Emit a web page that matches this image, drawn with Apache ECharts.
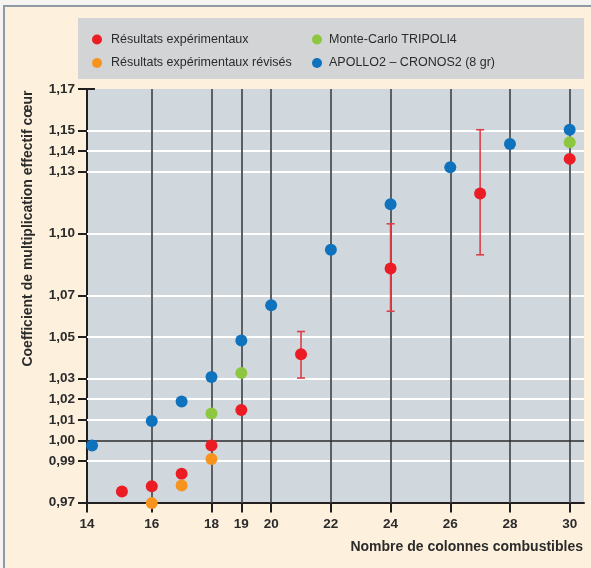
<!DOCTYPE html>
<html>
<head>
<meta charset="utf-8">
<script src="https://cdn.jsdelivr.net/npm/echarts@6/dist/echarts.min.js"></script>
<style>
  html, body { margin: 0; padding: 0; background: #f6f4f0; }
  #frame { position: absolute; left: 3px; top: 5px; width: 588px; height: 563px;
           border-top: 2px solid #8f9aa4; border-left: 2px solid #8f9aa4; background: #fdf0dd; box-sizing: border-box; }
  #chart { position: absolute; left: 0; top: 0; width: 591px; height: 568px; }
</style>
</head>
<body>
<div id="frame"></div>
<div id="chart"></div>
<script>
// ---- data ----
const seriesNames = ['Résultats expérimentaux', 'Résultats expérimentaux révisés', 'Monte-Carlo TRIPOLI4', 'APOLLO2 – CRONOS2 (8 gr)'];

const expX = [15, 16, 17, 18, 19, 21, 24, 27, 30];
const expY = [0.9753, 0.9779, 0.9839, 0.9976, 1.0147, 1.0417, 1.0832, 1.1195, 1.1362];

const errX = [21, 24, 27];
const errLow = [1.0302, 1.0625, 1.0898];
const errHigh = [1.0527, 1.1048, 1.1503];

const revX = [16, 17, 18];
const revY = [0.9697, 0.9782, 0.9910];

const tripoliX = [18, 19, 30];
const tripoliY = [1.0131, 1.0326, 1.1442];

const apolloX = [14, 16, 17, 18, 19, 20, 22, 24, 26, 28, 30];
const apolloY = [0.9976, 1.0094, 1.0188, 1.0307, 1.0483, 1.0654, 1.0922, 1.1142, 1.1321, 1.1434, 1.1503];

const xTickValues = [14, 16, 18, 19, 20, 22, 24, 26, 28, 30];
const xGridValues = [16, 18, 19, 20, 22, 24, 26, 28, 30];
const yTickValues = [0.97, 0.99, 1.00, 1.01, 1.02, 1.03, 1.05, 1.07, 1.10, 1.13, 1.14, 1.15, 1.17];
const yWhiteLines = [0.99, 1.01, 1.02, 1.03, 1.05, 1.07, 1.10, 1.13, 1.14, 1.15];
const yRefLine = 1.00;

const xAxisMin = 13.83, xAxisMax = 30.48;
const yAxisMin = 0.97, yAxisMax = 1.17;

// ---- chart ----
const colors = { exp: '#ec1c24', rev: '#f7941d', tri: '#8dc63f', apo: '#0e72bd' };
const zip = (xs, ys) => xs.map((x, i) => [x, ys[i]]);
const xLabelPos = xTickValues.map(v => (v === xTickValues[0] ? xAxisMin : v));
const fmtY = v => v.toFixed(2).replace('.', ',');
const fmtX = v => (v < xTickValues[0] ? String(xTickValues[0]) : String(Math.round(v)));

const axisDark = '#231f20';
const font = '"Liberation Sans", Arial, Helvetica, sans-serif';

const chart = echarts.init(document.getElementById('chart'), null, { renderer: 'canvas' });

const hiddenLine = { show: false };
chart.setOption({
  animation: false,
  backgroundColor: 'transparent',
  textStyle: { fontFamily: font },
  grid: { left: 87, top: 89, right: 7, bottom: 65.5, show: true, backgroundColor: '#d0d8de', borderWidth: 0 },
  xAxis: [
    {
      type: 'value', min: xAxisMin, max: xAxisMax, position: 'bottom',
      axisLine: { show: true, onZero: false, lineStyle: { color: axisDark, width: 2 } },
      axisTick: { show: true, customValues: xLabelPos, length: 10, lineStyle: { color: axisDark, width: 2 } },
      axisLabel: { show: true, customValues: xLabelPos, formatter: fmtX, margin: 15,
                   color: '#2b2b2b', fontWeight: 'bold', fontSize: 13.5, fontFamily: font },
      splitLine: { show: false }
    },
    {
      type: 'value', min: xAxisMin, max: xAxisMax, position: 'bottom',
      axisLine: hiddenLine,
      axisTick: { show: true, inside: true, customValues: xLabelPos, length: 6, lineStyle: { color: axisDark, width: 2 } },
      axisLabel: { show: false }, splitLine: { show: false }
    }
  ],
  yAxis: [
    {
      type: 'value', min: yAxisMin, max: yAxisMax, position: 'left',
      axisLine: { show: true, onZero: false, lineStyle: { color: axisDark, width: 2 } },
      axisTick: { show: true, customValues: yTickValues, length: 9, lineStyle: { color: axisDark, width: 2 } },
      axisLabel: { show: true, customValues: yTickValues, formatter: fmtY, margin: 12,
                   color: '#2b2b2b', fontWeight: 'bold', fontSize: 13.5, fontFamily: font },
      splitLine: { show: false }
    },
    {
      type: 'value', min: yAxisMin, max: yAxisMax, position: 'left',
      axisLine: hiddenLine,
      axisTick: { show: true, inside: true, customValues: yTickValues, length: 8, lineStyle: { color: axisDark, width: 2 } },
      axisLabel: { show: false }, splitLine: { show: false }
    }
  ],
  legend: [
    {
      data: [seriesNames[0], seriesNames[1]], orient: 'vertical', left: 87, top: 28,
      icon: 'circle', itemWidth: 10, itemHeight: 10, itemGap: 10.5,
      textStyle: { fontSize: 12.5, color: '#2b2b2b', fontFamily: font, padding: [0, 0, 0, 4] }
    },
    {
      data: [seriesNames[2], seriesNames[3]], orient: 'vertical', left: 307, top: 28,
      icon: 'circle', itemWidth: 10, itemHeight: 10, itemGap: 10.5,
      textStyle: { fontSize: 12.5, color: '#2b2b2b', fontFamily: font, padding: [0, 0, 0, 2] }
    }
  ],
  graphic: [
    { type: 'rect', left: 78, top: 18, z: -1, shape: { width: 506, height: 61 }, style: { fill: '#d3d4d6' } },
    { type: 'text', right: 8, top: 540, style: { text: 'Nombre de colonnes combustibles', fill: '#2b2b2b',
        font: 'bold 14px ' + font } },
    { type: 'text', x: 28, y: 228.5, rotation: Math.PI / 2, style: { text: 'Coefficient de multiplication effectif cœur',
        fill: '#2b2b2b', font: 'bold 14px ' + font, align: 'center', verticalAlign: 'middle' } }
  ],
  series: [
    {
      type: 'scatter', data: [], silent: true, z: 1,
      markLine: { silent: true, symbol: ['none', 'none'], label: { show: false }, animation: false,
        lineStyle: { color: '#ffffff', width: 2, type: 'solid' },
        data: yWhiteLines.map(v => ({ yAxis: v })) }
    },
    {
      type: 'scatter', data: [], silent: true, z: 2,
      markLine: { silent: true, symbol: ['none', 'none'], label: { show: false }, animation: false,
        lineStyle: { color: '#5c6065', width: 2, type: 'solid' },
        data: xGridValues.map(v => ({ xAxis: v })) }
    },
    {
      type: 'scatter', data: [], silent: true, z: 3,
      markLine: { silent: true, symbol: ['none', 'none'], label: { show: false }, animation: false,
        lineStyle: { color: '#2b2b2b', width: 1.5, type: 'solid' },
        data: [{ yAxis: yRefLine }] }
    },
    {
      type: 'custom', z: 10, silent: true,
      data: errX.map((x, i) => [x, errLow[i], errHigh[i]]),
      renderItem: (params, api) => {
        const lo = api.coord([api.value(0), api.value(1)]);
        const hi = api.coord([api.value(0), api.value(2)]);
        const w = 4;
        const st = { stroke: '#dc3f49', lineWidth: 1.6 };
        return { type: 'group', children: [
          { type: 'line', z2: 100, shape: { x1: lo[0], y1: lo[1], x2: hi[0], y2: hi[1] }, style: st },
          { type: 'line', z2: 100, shape: { x1: lo[0] - w, y1: lo[1], x2: lo[0] + w, y2: lo[1] }, style: st },
          { type: 'line', z2: 100, shape: { x1: hi[0] - w, y1: hi[1], x2: hi[0] + w, y2: hi[1] }, style: st }
        ] };
      }
    },
    { name: seriesNames[0], type: 'scatter', z: 12, clip: false, symbolSize: 12, itemStyle: { color: colors.exp, opacity: 1 }, data: zip(expX, expY) },
    { name: seriesNames[1], type: 'scatter', z: 12, clip: false, symbolSize: 12, itemStyle: { color: colors.rev, opacity: 1 }, data: zip(revX, revY) },
    { name: seriesNames[2], type: 'scatter', z: 12, clip: false, symbolSize: 12, itemStyle: { color: colors.tri, opacity: 1 }, data: zip(tripoliX, tripoliY) },
    { name: seriesNames[3], type: 'scatter', z: 12, clip: false, symbolSize: 12, itemStyle: { color: colors.apo, opacity: 1 }, data: zip(apolloX, apolloY) }
  ]
});
</script>
</body>
</html>
